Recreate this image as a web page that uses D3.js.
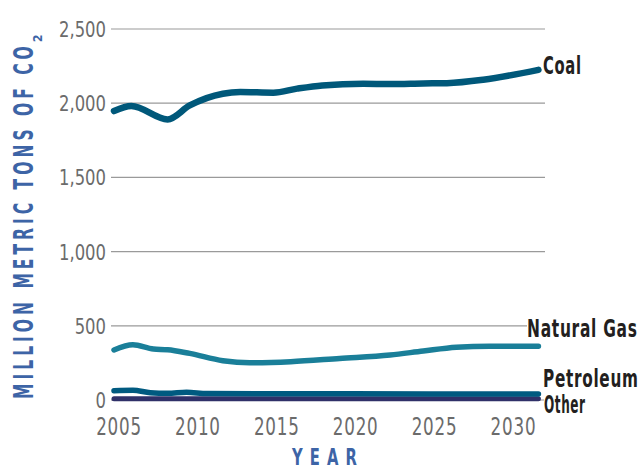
<!DOCTYPE html>
<html>
<head>
<meta charset="utf-8">
<script src="https://cdn.jsdelivr.net/npm/d3@7"></script>
<style>
  body { margin: 0; background: #fff; }
  svg { display: block; }
</style>
</head>
<body>
<div id="chart"></div>
<script>
// values, million metric tons of CO2
const coalYears = [2005, 2006.1, 2008.4, 2009.8, 2011.9, 2013, 2015.1, 2016.6, 2018.2, 2020.8, 2022.5, 2024.6, 2026.1, 2028.4, 2031.9]
const coalValues = [1947, 1981, 1891, 1985, 2064, 2075, 2071, 2098, 2120, 2131, 2129, 2133, 2135, 2158, 2225]

const gasYears = [2005, 2006.2, 2007.5, 2008.4, 2009.8, 2011.9, 2013.6, 2016.2, 2019.3, 2022.5, 2024.6, 2026.7, 2028.8, 2031.9]
const gasValues = [337, 372, 343, 339, 314, 265, 251, 258, 280, 303, 330, 355, 363, 363]

const petroYears = [2005, 2006.2, 2007.3, 2008.4, 2009.6, 2010.9, 2015, 2020, 2025, 2031.9]
const petroValues = [63, 65, 49, 45, 52, 43, 42, 42, 41, 40]

const otherYears = [2005, 2015, 2025, 2031.9]
const otherValues = [9, 9, 9, 9]

const yTicks = [0, 500, 1000, 1500, 2000, 2500]
const xTicks = [2005, 2010, 2015, 2020, 2025, 2030]

const seriesNames = ['Coal', 'Natural Gas', 'Petroleum', 'Other']
const seriesColors = ['#00587a', '#1a7f99', '#005a80', '#2f3068']

const width = 642
const height = 470
const cond = '"DejaVu Sans Condensed", "DejaVu Sans", sans-serif'

const svg = d3.select('#chart').append('svg')
    .attr('width', width)
    .attr('height', height)

const x = d3.scaleLinear().domain([2005, 2032]).range([114, 540])
const y = d3.scaleLinear().domain([0, 2500]).range([400, 29])

// squeeze a text horizontally so it is `target` px wide (no condensed gothic installed)
function fit(g, text, target, spacing) {
    const w = text.node().getComputedTextLength() - (spacing || 0)
    const s = target / w
    g.attr('transform', (g.attr('transform') || '') + ` scale(${s},1)`)
    return s
}

// gridlines
svg.append('g')
    .selectAll('line')
    .data(yTicks)
    .join('line')
        .attr('x1', 111)
        .attr('x2', 545)
        .attr('y1', d => y(d))
        .attr('y2', d => y(d))
        .attr('stroke', '#9a9a9a')
        .attr('stroke-width', 1.2)

// y tick labels
const yLab = svg.append('g')
    .selectAll('g')
    .data(yTicks)
    .join('g')
        .attr('transform', d => `translate(106,${y(d)})`)
yLab.append('text')
    .attr('dy', '0.36em')
    .attr('text-anchor', 'end')
    .attr('fill', '#6b6b6b')
    .style('font', `22px ${cond}`)
    .text(d => d3.format(',')(d))
const ys = 47 / yLab.filter(d => d === 2500).select('text').node().getComputedTextLength()
yLab.attr('transform', d => `translate(106,${y(d)}) scale(${ys},1)`)

// x tick labels
const xLab = svg.append('g')
    .selectAll('g')
    .data(xTicks)
    .join('g')
        .attr('transform', d => `translate(${x(d) + 5},435)`)
xLab.append('text')
    .attr('text-anchor', 'middle')
    .attr('fill', '#6b6b6b')
    .style('font', `24px ${cond}`)
    .style('letter-spacing', '1px')
    .text(d => d)
const xs = 45 / (xLab.select('text').node().getComputedTextLength() - 1)
xLab.attr('transform', d => `translate(${x(d) + 5},435) scale(${xs},1)`)

const series = [
    {name: seriesNames[3], years: otherYears, values: otherValues, w: 5},
    {name: seriesNames[2], years: petroYears, values: petroValues, w: 5.5},
    {name: seriesNames[1], years: gasYears, values: gasValues, w: 5.5},
    {name: seriesNames[0], years: coalYears, values: coalValues, w: 6.5}
]

const line = d3.line()
    .x(d => x(d[0]))
    .y(d => y(d[1]))
    .curve(d3.curveMonotoneX)

svg.append('g')
    .attr('fill', 'none')
    .attr('stroke-linecap', 'round')
    .selectAll('path')
    .data(series)
    .join('path')
        .attr('stroke', d => seriesColors[seriesNames.indexOf(d.name)])
        .attr('stroke-width', d => d.w)
        .attr('d', d => line(d.years.map((yr, i) => [yr, d.values[i]])))

// end labels
const labels = [
    {name: 'Coal', x: 543, y: 74, w: 38},
    {name: 'Natural Gas', x: 527, y: 337, w: 110},
    {name: 'Petroleum', x: 543, y: 387, w: 95},
    {name: 'Other', x: 544, y: 413, w: 41}
]

labels.forEach(d => {
    svg.append('rect')
        .attr('x', d.x)
        .attr('y', d.y - 18)
        .attr('width', d.w + 2)
        .attr('height', 19)
        .attr('fill', '#fff')
    const g = svg.append('g').attr('transform', `translate(${d.x},${d.y})`)
    const t = g.append('text')
        .attr('fill', '#231f20')
        .style('font', `bold 24px ${cond}`)
        .style('letter-spacing', '1px')
        .text(d.name)
    fit(g, t, d.w, 1)
})

// axis titles
const yg = svg.append('g').attr('transform', 'translate(33,399) rotate(-90)')
const yTitle = yg.append('text')
    .attr('fill', '#3d64a6')
    .style('font', `bold 26px ${cond}`)
    .style('letter-spacing', '6px')
    .text('MILLION METRIC TONS OF CO')
fit(yg, yTitle, 353, 6)

svg.append('g')
    .attr('transform', 'translate(42,42) rotate(-90)')
    .append('text')
        .attr('fill', '#3d64a6')
        .style('font', `bold 12px ${cond}`)
        .text('2')

const xg = svg.append('g').attr('transform', 'translate(292,465)')
const xTitle = xg.append('text')
    .attr('fill', '#3d64a6')
    .style('font', `bold 23px ${cond}`)
    .style('letter-spacing', '10px')
    .text('YEAR')
fit(xg, xTitle, 65, 10)
</script>
</body>
</html>
